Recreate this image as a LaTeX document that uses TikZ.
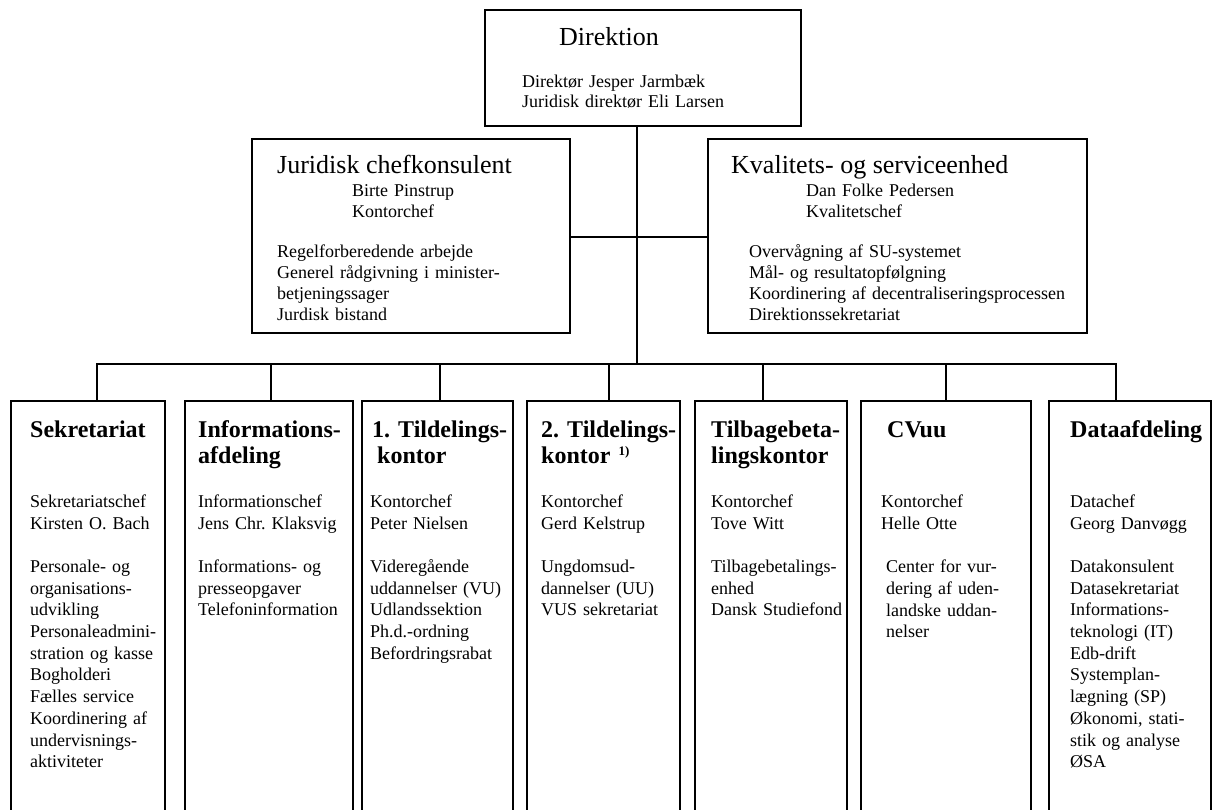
\documentclass[tikz,border=0pt]{standalone}
\usepackage{fontspec}
\setmainfont{Liberation Serif}
\frenchspacing
\begin{document}
\begin{tikzpicture}[x=1pt,y=-1pt,
  box/.style={draw,line width=2.2pt,inner sep=0pt,rectangle},
  conn/.style={line width=2.2pt,line join=miter},
  hdr/.style={anchor=base west,inner sep=0pt,font=\fontsize{26}{30}\selectfont},
  sub/.style={anchor=base west,inner sep=0pt,text width=420pt,align=left,font=\fontsize{18}{21}\selectfont},
  ttl/.style={anchor=base west,inner sep=0pt,text width=180pt,align=left,font=\bfseries\fontsize{24}{26.5}\selectfont},
  body/.style={anchor=base west,inner sep=0pt,text width=180pt,align=left,font=\fontsize{18}{21.7}\selectfont}]
\useasboundingbox (0,0) rectangle (1213,810);
% top boxes
\node[box,minimum width=316pt,minimum height=116pt] (dir) at (643,68) {};
\node[box,minimum width=318pt,minimum height=194pt] (jur) at (411,236) {};
\node[box,minimum width=379pt,minimum height=194pt] (kval) at (897.5,236) {};
% bottom boxes
\node[box,minimum width=154pt,minimum height=415pt] (b1) at (88,608.5) {};
\node[box,minimum width=168pt,minimum height=415pt] (b2) at (269,608.5) {};
\node[box,minimum width=151pt,minimum height=415pt] (b3) at (437.5,608.5) {};
\node[box,minimum width=153pt,minimum height=415pt] (b4) at (603.5,608.5) {};
\node[box,minimum width=152pt,minimum height=415pt] (b5) at (771,608.5) {};
\node[box,minimum width=170pt,minimum height=415pt] (b6) at (946,608.5) {};
\node[box,minimum width=162pt,minimum height=415pt] (b7) at (1130,608.5) {};
% connector coordinates
\coordinate (j) at (637,237);
\coordinate (bus) at (637,364);
\coordinate (d1) at (97,364);
\coordinate (d2) at (271,364);
\coordinate (d3) at (440,364);
\coordinate (d4) at (609,364);
\coordinate (d5) at (763,364);
\coordinate (d6) at (946,364);
\coordinate (d7) at (1116,364);
% connectors
\draw[conn] (dir.south -| j) -- (bus);
\draw[conn] (jur.east |- j) -- (kval.west |- j);
\draw[conn] (d1 |- b1.north) -- (d1) -- (d7) -- (d7 |- b7.north);
\draw[conn] (d2) -- (d2 |- b2.north);
\draw[conn] (d3) -- (d3 |- b3.north);
\draw[conn] (d4) -- (d4 |- b4.north);
\draw[conn] (d5) -- (d5 |- b5.north);
\draw[conn] (d6) -- (d6 |- b6.north);
% Direktion text
\node[hdr] (dirT) at (559,45.5) {Direktion};
\node[sub,font=\fontsize{18}{20}\selectfont] (dirS) at (522,87.5) {Direktør Jesper Jarmbæk\\Juridisk direktør Eli Larsen};
% Juridisk
\node[hdr] (jurT) at (277,174) {Juridisk chefkonsulent};
\node[sub] (jurS) at (352,197) {Birte Pinstrup\\Kontorchef};
\node[sub] (jurB) at (277,258) {Regelforberedende arbejde\\Generel rådgivning i minister-\\betjeningssager\\Jurdisk bistand};
% Kvalitet
\node[hdr] (kvalT) at (731,174) {Kvalitets- og serviceenhed};
\node[sub] (kvalS) at (806,197) {Dan Folke Pedersen\\Kvalitetschef};
\node[sub] (kvalB) at (749,258) {Overvågning af SU-systemet\\Mål- og resultatopfølgning\\Koordinering af decentraliseringsprocessen\\Direktionssekretariat};
% bottom titles
\node[ttl] (t1) at (30,437) {Sekretariat};
\node[ttl] (t2) at (198,437) {Informations-\\afdeling};
\node[ttl] (t3) at (372,437) {1. Tildelings-\\\hspace*{5pt}kontor};
\node[ttl] (t4) at (541,437) {2. Tildelings-\\kontor \raisebox{8pt}{\fontsize{13}{13}\selectfont 1)}};
\node[ttl] (t5) at (711,437) {Tilbagebeta-\\lingskontor};
\node[ttl] (t6) at (887,437) {CVuu};
\node[ttl] (t7) at (1070,437) {Dataafdeling};
% bottom bodies
\node[body] (s1) at (30,507.3) {Sekretariatschef\\Kirsten O. Bach\\[21.7pt]Personale- og\\organisations-\\udvikling\\Personaleadmini-\\stration og kasse\\Bogholderi\\Fælles service\\Koordinering af\\undervisnings-\\aktiviteter};
\node[body] (s2) at (198,507.3) {Informationschef\\Jens Chr. Klaksvig\\[21.7pt]Informations- og\\presseopgaver\\Telefoninformation};
\node[body] (s3) at (370,507.3) {Kontorchef\\Peter Nielsen\\[21.7pt]Videregående\\uddannelser (VU)\\Udlandssektion\\Ph.d.-ordning\\Befordringsrabat};
\node[body] (s4) at (541,507.3) {Kontorchef\\Gerd Kelstrup\\[21.7pt]Ungdomsud-\\dannelser (UU)\\VUS sekretariat};
\node[body] (s5) at (711,507.3) {Kontorchef\\Tove Witt\\[21.7pt]Tilbagebetalings-\\enhed\\Dansk Studiefond};
\node[body] (s6) at (881,507.3) {Kontorchef\\Helle Otte};
\node[body] (s6b) at (886,572.7) {Center for vur-\\dering af uden-\\landske uddan-\\nelser};
\node[body] (s7) at (1070,507.3) {Datachef\\Georg Danvøgg\\[21.7pt]Datakonsulent\\Datasekretariat\\Informations-\\teknologi (IT)\\Edb-drift\\Systemplan-\\lægning (SP)\\Økonomi, stati-\\stik og analyse\\ØSA};
\end{tikzpicture}
\end{document}
